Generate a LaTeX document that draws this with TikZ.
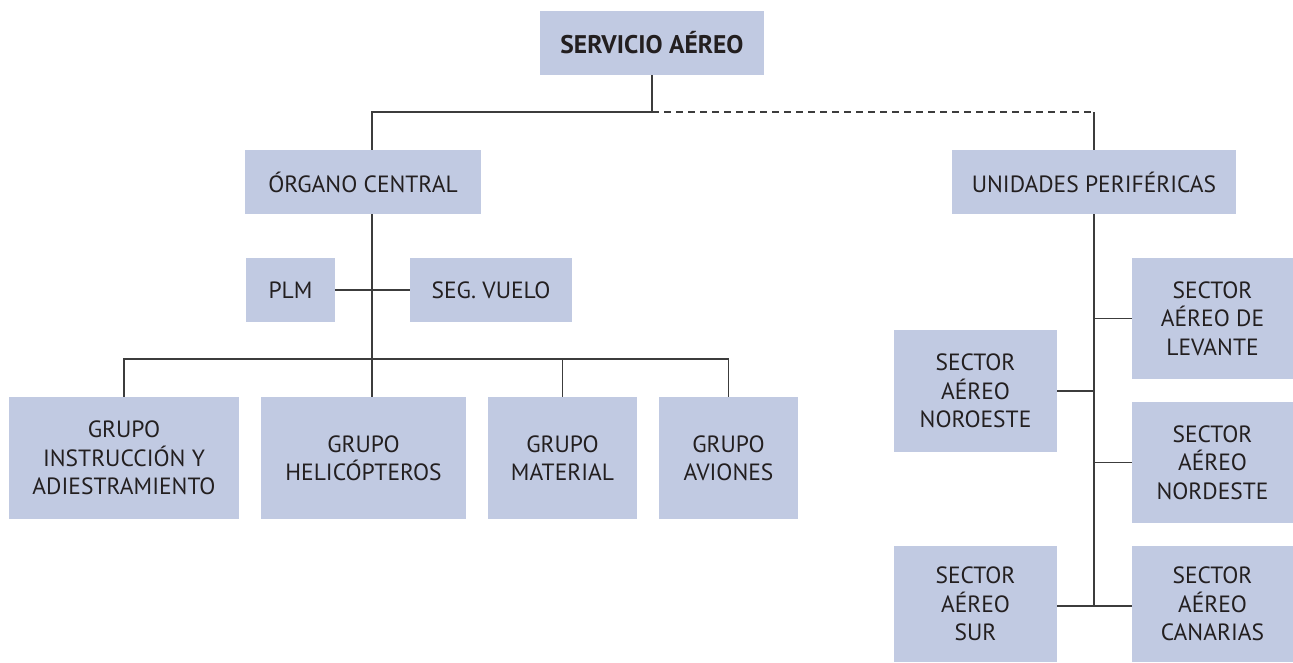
\documentclass[tikz,border=0pt]{standalone}
\usepackage{fontspec}
\setmainfont{PT Sans}
\definecolor{boxfill}{RGB}{193,202,226}
\definecolor{txt}{RGB}{35,31,32}
\definecolor{lin}{RGB}{60,60,60}
\newcommand{\bx}[6]{%
  \node[unit, minimum width={#4-#2}, minimum height={#5-#3}] (#1) at ({(#2+#4)/2},{(#3+#5)/2}) {#6};}
\begin{document}
\begin{tikzpicture}[x=1pt,y=-1pt,
  unit/.style={fill=boxfill, draw=none, inner sep=0pt, align=center, text=txt,
    font=\fontsize{23.5}{28.3}\selectfont},
  conn/.style={draw=lin, line width=1.1pt},
  dconn/.style={draw=lin, line width=1.1pt, dash pattern=on 7pt off 5pt}]
\useasboundingbox (0,0) rectangle (1293,662);
\bx{serv}{540}{11}{764}{75}{\fontsize{25.5}{28.3}\selectfont\bfseries SERVICIO AÉREO}
\bx{org}{245}{150}{481}{214}{ÓRGANO CENTRAL}
\bx{uni}{952}{150}{1236}{214}{UNIDADES PERIFÉRICAS}
\bx{plm}{246}{258}{335}{322}{PLM}
\bx{seg}{410}{258}{572}{322}{SEG. VUELO}
\bx{gia}{9}{397}{239}{519}{GRUPO\\INSTRUCCIÓN Y\\ADIESTRAMIENTO}
\bx{hel}{261}{397}{466}{519}{GRUPO\\HELICÓPTEROS}
\bx{mat}{488}{397}{637}{519}{GRUPO\\MATERIAL}
\bx{avi}{659}{397}{798}{519}{GRUPO\\AVIONES}
\bx{lev}{1132}{258}{1293}{379}{SECTOR\\AÉREO DE\\LEVANTE}
\bx{nor}{894}{330}{1057}{452}{SECTOR\\AÉREO\\NOROESTE}
\bx{nord}{1132}{402}{1293}{523}{SECTOR\\AÉREO\\NORDESTE}
\bx{sur}{894}{546}{1057}{662}{SECTOR\\AÉREO\\SUR}
\bx{can}{1132}{546}{1293}{662}{SECTOR\\AÉREO\\CANARIAS}
\coordinate (j1) at (652,112);
\coordinate (cx) at (372,0);
\coordinate (hb) at (372,359);
\coordinate (rb) at (1094,606);
% top level
\draw[conn] (serv.south) -- (j1);
\draw[conn] (j1) -| (org.north -| cx);
\draw[dconn] (j1) -- (uni.north |- j1);
\draw[conn] (uni.north |- j1) -- (uni.north);
% central branch
\draw[conn] (org.south -| cx) -- (hel.north -| cx);
\draw[conn] (plm.east) -- (seg.west);
\draw[conn] (gia.north) |- (hb);
\draw[conn] (hb) -| (avi.north);
\draw[conn] (mat.north) -- (mat.north |- hb);
% peripheral branch
\draw[conn] (uni.south) -- (rb);
\draw[conn] (lev.west) -- (lev.west -| rb);
\draw[conn] (nor.east) -- (nor.east -| rb);
\draw[conn] (nord.west) -- (nord.west -| rb);
\draw[conn] (sur.east |- rb) -- (can.west |- rb);
\end{tikzpicture}
\end{document}
